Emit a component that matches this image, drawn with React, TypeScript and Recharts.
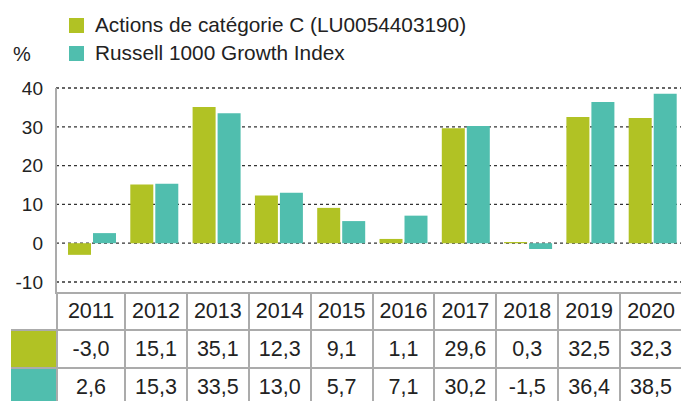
import React from 'react';
import { BarChart, Bar, XAxis, YAxis, CartesianGrid } from 'recharts';

// Values
const years = ['2011', '2012', '2013', '2014', '2015', '2016', '2017', '2018', '2019', '2020'];
const fundValues = [-3.0, 15.1, 35.1, 12.3, 9.1, 1.1, 29.6, 0.3, 32.5, 32.3];
const indexValues = [2.6, 15.3, 33.5, 13.0, 5.7, 7.1, 30.2, -1.5, 36.4, 38.5];
const yTicks = [-10, 0, 10, 20, 30, 40];

const fundLabel = 'Actions de catégorie C (LU0054403190)';
const indexLabel = 'Russell 1000 Growth Index';

const GREEN = '#b1c224';
const TEAL = '#50beae';
const BORDER = '#ababab';
const FONT = '"Liberation Sans", Arial, Helvetica, sans-serif';

const data = years.map((year, i) => ({ year, fund: fundValues[i], index: indexValues[i] }));

const fmt = (v: number) => v.toFixed(1).replace('.', ',');

// table geometry
const tableLeft = 56;
const firstColW = 68;
const colW = (681 - tableLeft - firstColW) / 9;
const rowTops = [292, 329, 367];
const rowH = [37, 38, 38];

const colX = (i: number) => (i === 0 ? tableLeft : tableLeft + firstColW + (i - 1) * colW);
const colWidth = (i: number) => (i === 0 ? firstColW : colW);

const Cell = ({ x, y, w, h, children }: any) => (
  <div
    style={{
      position: 'absolute',
      left: x,
      top: y,
      width: w,
      height: h,
      boxSizing: 'border-box',
      borderLeft: `2px solid ${BORDER}`,
      borderTop: `2px solid ${BORDER}`,
      display: 'flex',
      alignItems: 'center',
      justifyContent: 'center',
      fontSize: 21.5,
      color: '#222',
    }}
  >
    {children}
  </div>
);

const LegendItem = ({ color, label, top }: { color: string; label: string; top: number }) => (
  <div style={{ position: 'absolute', left: 69, top, display: 'flex', alignItems: 'center' }}>
    <div style={{ width: 15, height: 15, background: color, marginRight: 11 }} />
    <span style={{ fontSize: 20.8, color: '#222', whiteSpace: 'nowrap' }}>{label}</span>
  </div>
);

export default function App() {
  const rows = [fundValues, indexValues];
  return (
    <div
      style={{
        position: 'absolute',
        left: 0,
        top: 0,
        width: 681,
        height: 401,
        overflow: 'hidden',
        background: '#fff',
        fontFamily: FONT,
      }}
    >
      <LegendItem color={GREEN} label={fundLabel} top={13} />
      <LegendItem color={TEAL} label={indexLabel} top={41} />
      <div style={{ position: 'absolute', left: 13, top: 43, fontSize: 20, color: '#222' }}>%</div>

      <div style={{ position: 'absolute', left: 0, top: 0 }}>
        <BarChart
          width={684}
          height={292}
          data={data}
          margin={{ top: 88, right: 0, bottom: 10, left: 0 }}
          barSize={23}
          barGap={2}
        >
          <CartesianGrid vertical={false} stroke="#333" strokeWidth={1.3} strokeDasharray="3 3" />
          <XAxis dataKey="year" hide padding={{ left: 5, right: 0 }} />
          <YAxis
            width={56}
            domain={[-10, 40]}
            ticks={yTicks}
            interval={0}
            axisLine={{ stroke: BORDER, strokeWidth: 2 }}
            tickLine={false}
            tickSize={0}
            tickMargin={13}
            tick={{ fill: '#222', fontSize: 19, fontFamily: FONT }}
          />
          <Bar dataKey="fund" fill={GREEN} isAnimationActive={false} />
          <Bar dataKey="index" fill={TEAL} isAnimationActive={false} />
        </BarChart>
      </div>

      {/* axis continues down into the table */}
      <div style={{ position: 'absolute', left: 55, top: 280, width: 2, height: 14, background: BORDER }} />

      {years.map((y, i) => (
        <Cell key={'h' + y} x={colX(i)} y={rowTops[0]} w={colWidth(i)} h={rowH[0]}>
          {y}
        </Cell>
      ))}
      {rows.map((vals, r) =>
        vals.map((v, i) => (
          <Cell key={r + '-' + i} x={colX(i)} y={rowTops[r + 1]} w={colWidth(i)} h={rowH[r + 1]}>
            {fmt(v)}
          </Cell>
        ))
      )}
      {[GREEN, TEAL].map((c, r) => (
        <div
          key={c}
          style={{
            position: 'absolute',
            left: 11,
            top: rowTops[r + 1],
            width: 45,
            height: rowH[r + 1],
            boxSizing: 'border-box',
            borderTop: `2px solid ${BORDER}`,
            background: c,
          }}
        />
      ))}
    </div>
  );
}
